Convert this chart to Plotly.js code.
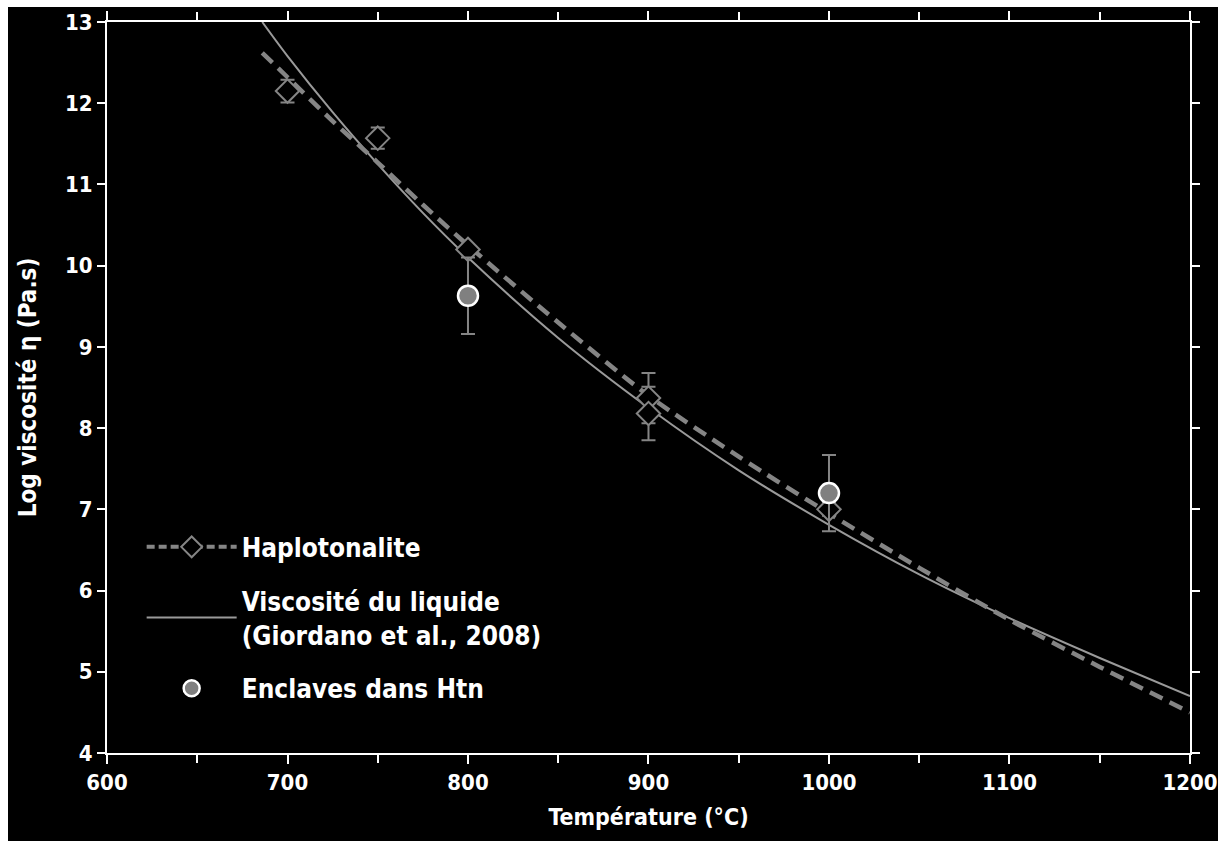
<!DOCTYPE html>
<html>
<head>
<meta charset="utf-8">
<script src="https://cdn.plot.ly/plotly-3.0.1.min.js"></script>
<style>
  html, body { margin: 0; padding: 0; background: #ffffff; width: 1227px; height: 841px; overflow: hidden; }
  #chart { position: absolute; left: 8px; top: 7px; width: 1210px; height: 834px; }
</style>
</head>
<body>
<div id="chart"></div>
<script>
// Liquid viscosity curve (Giordano et al., 2008)
const liqT = [686, 700, 725, 750, 775, 800, 850, 900, 950, 1000, 1050, 1100, 1150, 1200];
const liqLogEta = [13.0, 12.58, 11.89, 11.25, 10.65, 10.10, 9.11, 8.25, 7.48, 6.81, 6.20, 5.66, 5.17, 4.70];

// Haplotonalite fitted curve (dashed)
const fitT = [686, 700, 725, 750, 775, 800, 850, 900, 950, 1000, 1050, 1100, 1150, 1200];
const fitLogEta = [12.62, 12.32, 11.78, 11.27, 10.75, 10.25, 9.30, 8.40, 7.65, 6.95, 6.28, 5.64, 5.06, 4.50];

// Haplotonalite measurements
const haploT = [700, 750, 800, 900, 900, 1000];
const haploLogEta = [12.15, 11.57, 10.20, 8.37, 8.18, 7.00];
const haploErr = [0.14, 0.13, 0.05, 0.31, 0.33, 0.08];

// Enclaves in Htn
const enclT = [800, 1000];
const enclLogEta = [9.63, 7.20];
const enclErr = [0.47, 0.47];

// Tick labels
const xTicks = [600, 700, 800, 900, 1000, 1100, 1200];
const yTicks = [4, 5, 6, 7, 8, 9, 10, 11, 12, 13];

const FONT = 'Liberation Sans Narrow, DejaVu Sans Condensed, Arial Narrow, sans-serif';
const GREY = '#858585';

const traces = [
  { x: liqT, y: liqLogEta, mode: 'lines', line: { color: '#9a9a9a', width: 2, shape: 'spline', smoothing: 0.8 }, showlegend: false, hoverinfo: 'skip' },
  { x: fitT, y: fitLogEta, mode: 'lines', line: { color: GREY, width: 4.5, dash: '14px,8px', shape: 'spline', smoothing: 0.8 }, showlegend: false, hoverinfo: 'skip' },
  { x: haploT, y: haploLogEta, mode: 'markers', showlegend: false,
    marker: { symbol: 'diamond', size: 18, color: '#000000', line: { width: 2, color: GREY } },
    error_y: { type: 'data', array: haploErr, visible: true, color: GREY, thickness: 2, width: 7 } },
  { x: enclT, y: enclLogEta, mode: 'markers', showlegend: false,
    marker: { symbol: 'circle', size: 20, color: '#808080', line: { width: 2.5, color: '#ffffff' } },
    error_y: { type: 'data', array: enclErr, visible: true, color: GREY, thickness: 2, width: 7 } },
  // legend entries
  { x: [null], y: [null], mode: 'lines+markers', name: 'Haplotonalite', legendgroup: 'a',
    line: { color: GREY, width: 4, dash: '8px,4px' },
    marker: { symbol: 'diamond', size: 16, color: '#000000', line: { width: 2, color: GREY } } },
  { x: [null], y: [null], mode: 'lines', name: 'Viscosité du liquide<br>(Giordano et al., 2008)', legendgroup: 'b',
    line: { color: '#9a9a9a', width: 2 } },
  { x: [null], y: [null], mode: 'markers', name: 'Enclaves dans Htn', legendgroup: 'c',
    marker: { symbol: 'circle', size: 16, color: '#808080', line: { width: 2.5, color: '#ffffff' } } }
];

const axisCommon = {
  showline: true, linecolor: '#ffffff', linewidth: 2, mirror: 'allticks',
  ticks: 'outside', tickcolor: '#ffffff', tickwidth: 2,
  showgrid: false, zeroline: false, ticklabeloverflow: 'allow',
  tickfont: { family: FONT, size: 22, color: '#ffffff', weight: 'bold' }
};

const layout = {
  width: 1210, height: 834,
  margin: { l: 99, r: 28, t: 15, b: 88 },
  paper_bgcolor: '#000000', plot_bgcolor: '#000000',
  font: { family: FONT, color: '#ffffff', weight: 'bold' },
  xaxis: Object.assign({}, axisCommon, {
    range: [600, 1200.01], tickmode: 'array', tickvals: xTicks, ticktext: xTicks.map(String), ticklen: 9,
    minor: { tickmode: 'linear', tick0: 600, dtick: 50, ticks: 'outside', ticklen: 8, tickwidth: 2, tickcolor: '#ffffff' },
    title: { text: 'Température (°C)', font: { family: FONT, size: 23, color: '#ffffff', weight: 'bold' }, standoff: 14 }
  }),
  xaxis2: {
    overlaying: 'x', anchor: 'y', range: [600, 1200.01], tickmode: 'array', tickvals: xTicks,
    ticks: 'inside', ticklen: 7, tickwidth: 2, tickcolor: '#ffffff', mirror: 'allticks',
    showticklabels: false, showline: false, showgrid: false, zeroline: false
  },
  yaxis: Object.assign({}, axisCommon, {
    range: [4, 13.0002], tickmode: 'array', tickvals: yTicks, ticktext: yTicks.map(String), ticklen: 8,
    title: { text: 'Log viscosité η (Pa.s)', font: { family: FONT, size: 24, color: '#ffffff', weight: 'bold' }, standoff: 22 }
  }),
  showlegend: true,
  legend: {
    x: 0.032, y: 0.314, xanchor: 'left', yanchor: 'top',
    bgcolor: 'rgba(0,0,0,0)', borderwidth: 0,
    font: { family: FONT, size: 26, color: '#ffffff', weight: 'bold' },
    traceorder: 'grouped', tracegroupgap: 17, itemwidth: 90
  }
};

Plotly.newPlot('chart', traces, layout, { displayModeBar: false, staticPlot: true });
</script>
</body>
</html>
